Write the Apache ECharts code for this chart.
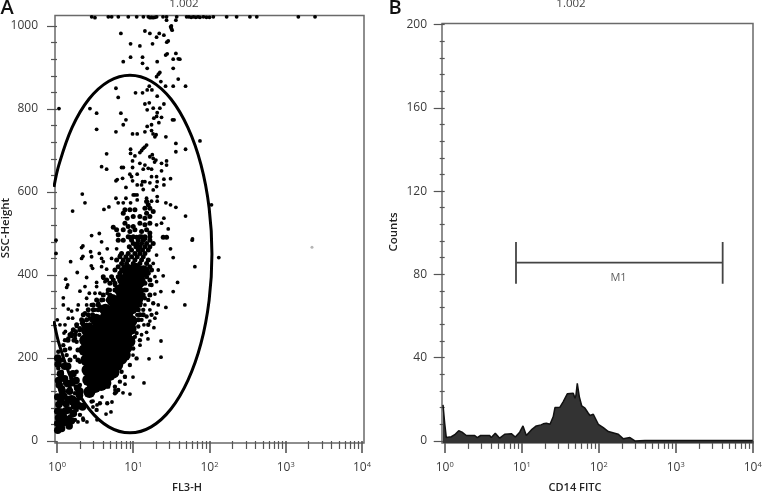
<!DOCTYPE html>
<html><head><meta charset="utf-8">
<style>html,body{margin:0;padding:0;background:#fff;overflow:hidden}#c{width:762px;height:493px}</style>
<script src="https://cdn.jsdelivr.net/npm/echarts@6/dist/echarts.min.js"></script>
</head><body><div id="c"></div>
<script>
// x values are log10 of the fluorescence channel
const decades=[0,1,2,3,4];
const ticksA=[0,200,400,600,800,1000];
const ticksB=[0,40,80,120,160,200];
const topRow=[[.455,1022],[.498,1020],[.673,1022],[.717,1022],[.804,1022],[.935,1022],[1.045,1022],[1.133,1022],[1.198,1022],[1.22,1020],[1.24,1021],[1.26,1020],[1.285,1021],[1.307,1022],[1.39,1022],[1.437,1022],[1.57,1022],[1.70,1022],[1.73,1022],[1.76,1021],[1.79,1022],[1.82,1021],[1.85,1022],[1.875,1021],[1.92,1022],[1.96,1021],[2.0,1021],[2.05,1022],[2.225,1022],[2.356,1022],[2.53,1022],[2.62,1022],[3.165,1022],[3.384,1022]];
const sparseEvents=[[1.437,1014],[1.559,1014],[1.49,998],[1.51,990],[1.5,994],[1.5,1000],[.838,982],[1.153,988],[1.218,982],[1.341,982],[1.306,973],[1.402,978],[1.459,964],[1.44,961],[.965,957],[1.087,952],[1.253,957],[1.445,933],[1.425,930],[1.559,934],[.965,925],[1.122,925],[.869,914],[1.314,914],[1.524,920],[1.611,920],[1.59,921],[1.122,910],[1.183,898],[1.524,898],[1.349,888],[1.33,884],[1.306,878],[1.59,872],[1.362,866],[1.21,855],[1.424,855],[1.524,855],[1.686,855],[.773,850],[1.03,839],[1.122,839],[1.183,846],[1.245,846],[.803,828],[1.314,831],[1.21,815],[1.153,812],[1.402,812],[.026,801],[.432,801],[.52,790],[1.183,798],[1.262,802],[1.349,802],[1.314,791],[.838,790],[.904,774],[.869,762],[.52,751],[.773,745],[.991,740],[1.052,740],[1.183,758],[1.24,762],[1.24,748],[1.153,745],[1.306,782],[1.27,778],[1.371,780],[1.336,767],[1.515,774],[1.535,774],[1.428,733],[1.284,733],[1.3,738],[1.26,740],[1.875,723],
[1.559,717],[1.686,703],[1.559,697],[.651,692],[.965,703],[.965,693],[1.175,713],[1.131,705],[1.087,695],[1.022,687],[1.15,708],[1.11,700],[1.262,681],[1.297,677],[1.218,685],[1.25,690],[1.28,672],[1.437,675],[1.437,665],[1.371,669],[.991,675],[.585,661],[.651,655],[.847,659],[.87,659],[1.087,669],[1.153,665],[1.197,657],[.991,659],[1.371,651],[1.24,655],[.956,643],[1.052,643],[.978,637],[.86,633],[.773,627],[.79,630],[.991,627],[1.131,655],[1.122,625],[1.24,637],[1.306,637],[1.314,625],[1.402,631],[1.402,617],[1.489,632],[1.153,625],[1.218,622],[1.052,617],[1.109,617],[1.306,613],[1.262,605],[1.131,606],[.904,611],[.332,595],[1.0,593],[1.022,593],[1.05,593],[.367,574],[.205,554],[.616,558],[.681,564],[.773,585],[.904,585],[.803,574],[.869,574],[.965,574],[1.052,581],[1.175,585],[1.314,589],[1.314,578],[1.24,578],[1.428,574],[1.489,569],[1.559,563],[2.026,569],[1.686,542],[1.402,537],[1.459,511],[1.371,525],[1.306,521],[.454,495],[.555,500],[1.777,487],
[.585,480],[.323,466],[.34,470],[.441,456],[.555,452],[.659,463],[.782,463],[-.013,452],[-.013,484],[.179,432],[.323,440],[.34,445],[.454,444],[.585,440],[.607,432],[.716,440],[.825,448],[.467,416],[.45,422],[.266,406],[.651,414],[.585,420],[.389,394],[.114,390],[.607,392],[.127,370],[.14,376],[.367,372],[.52,372],[.52,382],[.629,384],[.301,361],[.424,356],[.498,356],[.563,356],[.659,356],[.083,345],[.389,344],[.083,328],[.148,318],[.192,313],[.279,328],[.266,316],[.389,328],[.004,292],[.039,280],[.105,280],[.148,296],[.205,296],[.092,260],[.11,264],[.345,304],[.323,284],[.258,276],[.192,252],
[1.773,484],[1.489,463],[1.524,442],[2.122,442],[1.808,420],[1.306,448],[1.262,428],[1.328,412],[1.393,398],[1.284,396],[1.306,384],[1.218,376],[1.581,382],[1.524,360],[1.362,360],[1.284,354],[1.328,328],[1.428,322],[1.677,328],[1.153,328],[1.218,316],[1.306,308],[1.284,296],[1.218,289],[1.271,273],[1.14,280],[1.175,262],[1.109,256],
[.341,55],[.393,46],[.275,46],[.525,51],[.643,65],[.708,70],[.472,96],[.525,87],[.59,106],[.721,94],[.761,123],[.78,118],[.866,116],[.957,113],[.892,137],[.892,154],[.997,154],[1.141,140],[1.207,198],[1.364,202],[1.364,241],[1.193,246],[1.089,231],[.997,207],[.472,82]];
const clusterEvents=[[1.175,577],[1.197,569],[1.153,561],[1.218,561],[1.262,553],[1.175,549],[.956,557],[.891,557],[1.022,557],[.869,549],[.921,537],[1.0,541],[1.087,541],[1.153,537],[1.218,541],[.891,525],[.934,517],[1.0,517],[1.087,525],[1.153,521],[1.218,525],[.738,515],[.782,509],[.803,497],[.869,509],[.956,505],[1.022,509],[1.109,505],[1.175,509],[1.218,501],[.956,491],[1.044,491],[1.109,492],[1.153,488],[1.393,491],[1.437,491],
[.934,492],[1,492],[1.087,492],[1.153,492],[1.218,492],[.803,484],[.869,484],[.978,484],[1.066,484],[1.131,484],[1.218,484],[1,476],[1.052,476],[1.109,476],[1.175,476],[1.262,476],[.948,468],[1.035,468],[1.087,468],[1.153,468],[1.218,468],[.978,460],[1.066,460],[1.122,460],[1.197,460],[.847,452],[.934,452],[1.022,452],[1.087,452],[1.153,452],[.825,444],[.904,444],[.978,444],[1.052,444],[1.131,444],[.782,436],[.869,436],[.934,436],[1.022,436],[1.109,436],[1.197,436],[.847,428],[.913,428],[1,428],[1.087,428],[1.175,428],[.803,420],[.878,420],[.948,420],[1.044,420],[1.218,420],[.76,412],[.847,412],[.956,412],[1.066,412],[1.153,412],[1.24,412],[.825,404],[.921,404],[1,404],[1.109,404],[1.197,404],[.607,396],[.716,396],[.803,396],[.891,396],[1,396],[1.087,396],[1.175,396],[.651,388],[.738,388],[.825,388],[.956,388],[1.122,388],[1.218,388],[.694,380],[.76,380],[.847,380],[1.066,380],[1.153,380],[.672,364],[.76,364],[1.044,364],[1.153,364],[.607,352],[.694,352],[1.131,352],[1.218,352],[.52,340],[.585,340],[.672,340],[.76,340],[.476,328],[.541,328],[1.087,328],[.41,316],[.476,316],[.541,316],[1.066,316],[.345,304],[.41,304],[.467,304],[1.087,304],[1.131,304],[.323,292],[.389,292],[.454,292],[1.066,292],[.258,280],[.345,280],[.432,280],[.214,268],[.301,268],[.38,268],[.17,256],[.236,256],[.144,243],[.223,243],[.105,219],[.275,219],[.066,195],[.17,195],[.275,195]];
const rimEvents=[[1.052,396],[1.109,376],[1.175,364],[1.24,376],[1.087,356],[1.153,344],[1.052,344],[1.096,332],[1.044,318],[1.131,316],[1.052,304],[1.109,292],[1.022,288],[1.066,276],[1,268],[1.044,260],[.956,256],[1,248],[1.197,340],[1.262,332],[1.24,304],[1.175,300],[1.197,280],[.76,376],[.694,364],[.607,340],[.541,332],[.563,324],[.454,328],[.498,316],[.367,308],[.432,296],[.345,288],[.389,280],[.301,272],[.367,264],[.249,264],[.293,256],[.192,260],[.236,247],[.148,247],[.105,243],
[.017,175],[.061,167],[.127,207],[.17,223],[.236,203],[.301,191],[.258,239],[.083,231],[.017,215],[.039,151],[.105,139],[.192,151],[.258,167],[.17,127],[.061,115],[.236,115],[.301,135],[.301,103],[.127,99],[.192,91],[.061,91],[.345,87],[.258,75],[.105,67],[.17,59],[.039,55],[.301,63],[.236,51],[.105,43],[.039,31],[.345,51],[.454,95],[.563,91],[.52,75],[.659,91],[.76,115],[.803,123],[.76,131],[.672,131],[.825,143],[.891,155],[.847,167],[.956,183],[1.044,199],[1,223],[1.087,243],[.956,239],[1.022,251]];
const coreEvents=[[.425,118],[.5,130],[.41,147],[.53,150],[.635,140],[.4,171],[.515,175],[.63,168],[.74,165],[.385,195],[.5,198],[.62,192],[.735,190],[.845,198],[.36,219],[.475,222],[.59,215],[.71,222],[.825,218],[.91,225],[.37,243],[.485,240],[.6,246],[.72,240],[.84,246],[.95,240],[.395,267],[.51,270],[.63,264],[.75,270],[.865,264],[.965,270],[.515,292],[.63,295],[.745,289],[.865,295],[.975,289],[.635,316],[.75,319],[.86,313],[.98,319],[.725,340],[.84,343],[.95,337],[1.055,343],[.83,364],[.945,367],[1.06,361],[.87,388],[.98,391],[1.085,385],[.92,412],[1.03,415],[1.135,409],
[.47,135],[.58,135],[.46,159],[.58,159],[.69,159],[.44,183],[.56,183],[.68,183],[.79,183],[.43,207],[.55,207],[.67,207],[.78,207],[.89,207],[.42,231],[.54,231],[.65,231],[.77,231],[.88,231],[.43,255],[.55,255],[.67,255],[.78,255],[.9,255],[.57,280],[.69,280],[.8,280],[.92,280],[.69,304],[.8,304],[.92,304],[.78,328],[.9,328],[1.01,328],[.88,352],[1.0,352],[.92,376],[1.03,376],[.97,400],[1.08,400]];
const cornerEvents=[[.01,26],[.06,30],[.01,42],[.085,44],[.16,36],[.02,56],[.1,55],[.19,49],[.01,72],[.115,73],[.215,66],[.025,88],[.12,90],[.23,84],[.335,82],[.01,106],[.09,108],[.19,102],[.295,110],[.06,126],[.165,120],[.27,128],[.02,146],[.14,138],[.25,146],[.045,162],[.21,162],[.015,185],[.14,180],[.01,200],
[.05,50],[.05,70],[.05,95],[.15,75],[.15,100],[.07,120],[.21,100],[.03,135],[.1,150],[.18,140],[.25,95],[.29,85],[.3,120],[.1,180],[.06,60],[.14,50]];
const strayEvent=[[3.344,467]];
const gatePoints=[[-.04,612],[.026,666],[.197,755],[.4195,824],[.679,867],[.957,881.6],[1.235,867],[1.4945,824],[1.717,755],[1.888,666],[1.995,562],[2.032,450.6],[1.995,339],[1.888,235],[1.717,146],[1.4945,77],[1.235,34],[.957,19.6],[.679,34],[.4195,77],[.197,146],[.026,235],[-.04,289]];
const histLog=[-.022,0,.021,.086,.13,.182,.225,.281,.39,.423,.467,.584,.605,.657,.714,.779,.865,.917,.974,1.017,1.06,1.125,1.19,1.25,1.28,1.32,1.368,1.41,1.432,1.497,1.54,1.592,1.67,1.692,1.705,1.722,1.74,1.748,1.78,1.822,1.865,1.887,1.93,1.995,2.06,2.125,2.255,2.32,2.406,2.47,2.6,3,3.5,4];
const histCounts=[17.3,8.5,1.6,2,3,4.9,4.2,2.6,2.6,1.6,2.6,2.6,1.6,3.7,1.3,3.2,3.5,1.9,4.2,7.2,2.6,5.3,7.2,7.7,8.2,8.5,8,11.7,16,16.2,18.9,22.6,22.9,20.5,22,27.7,27,21.3,16.8,15.7,13.3,12.2,12.8,8,6.4,4.5,3.2,1,1.6,0,.2,.2,.2,.2];
const m1=[[.926,75.5],[.926,95.6],[.926,85.6],[3.61,85.6],[3.61,95.6],[3.61,75.5]];
const m1Label=[[2.257,78.4]];

const minorDecades=[];
for(let d=0;d<4;d++)for(let m=2;m<10;m++)minorDecades.push(d+Math.log10(m));
const fifths=t=>{const r=[];for(let i=0;i<t.length-1;i++)for(let k=1;k<5;k++)r.push(t[i]+(t[i+1]-t[i])*k/5);return r;};

const FONT='"Open Sans"';
const lineC='#555';
const grid=(left,width,top,height)=>({left,width,top,height,show:true,outerBoundsMode:'none',borderColor:'#6a6a6a',borderWidth:1.5,backgroundColor:'#fff'});
const xA=(gi,min,max,vals,len,labels)=>({type:'value',gridIndex:gi,position:'bottom',min,max,splitLine:{show:false},
  axisLine:{show:false},
  axisTick:{show:true,inside:false,length:len,customValues:vals,lineStyle:{color:lineC,width:len>10?1.6:1.2}},
  axisLabel:labels?{show:true,customValues:vals,margin:18,fontFamily:FONT,fontSize:12,color:'#3a3a3a',hideOverlap:false,
    formatter:v=>'10{s|'+Math.round(v)+'}',rich:{s:{fontSize:7.5,verticalAlign:'top',lineHeight:14,fontFamily:FONT,color:'#3a3a3a',padding:[0,0,6,0]}}}:{show:false}});
const yA=(gi,min,max,vals,len,margin)=>({type:'value',gridIndex:gi,position:'left',min,max,splitLine:{show:false},
  axisLine:{show:false},
  axisTick:{show:true,inside:false,length:len,customValues:vals,lineStyle:{color:lineC,width:1.2}},
  axisLabel:margin?{show:true,customValues:vals,margin,fontFamily:FONT,fontSize:12,color:'#3a3a3a',align:'right',formatter:v=>String(v)}:{show:false}});
const dots=(name,data,size,color)=>({name,type:'scatter',xAxisIndex:0,yAxisIndex:0,data,symbolSize:size,itemStyle:{color:color||'#000',opacity:1},silent:true,animation:false,large:false});
const txt=(text,x,y,o,rot)=>({type:'text',x,y,rotation:rot||0,style:Object.assign({text,fontFamily:FONT,fontSize:11,fill:'#222',textAlign:'center',textVerticalAlign:'middle'},o||{})});

const chart=echarts.init(document.getElementById('c'),null,{renderer:'canvas'});
chart.setOption({
  animation:false,
  backgroundColor:'#fff',
  grid:[grid(55,309,15.5,427.5),grid(442,311,23.5,419.5)],
  xAxis:[xA(0,-.026,4.026,decades,12,true),xA(0,-.026,4.026,minorDecades,8,false),
         xA(1,-.035,4.004,decades,12,true),xA(1,-.035,4.004,minorDecades,8,false)],
  yAxis:[yA(0,-4.8,1025.3,ticksA,10,17),yA(0,-4.8,1025.3,fifths(ticksA),6,0),
         yA(1,-1,200.5,ticksB,11,15),yA(1,-1,200.5,fifths(ticksB),5,0)],
  series:[
    dots('core',coreEvents,12),
    dots('corner',cornerEvents,7.5),
    dots('cluster',clusterEvents,5),
    dots('rim',rimEvents,4.4),
    dots('sparse',sparseEvents,3.8),
    dots('top',topRow,3.8),
    dots('stray',strayEvent,3,'#b5b5b5'),
    {name:'gate',type:'line',xAxisIndex:0,yAxisIndex:0,data:gatePoints,smooth:.35,showSymbol:false,symbol:'none',clip:true,lineStyle:{color:'#000',width:3},silent:true},
    {name:'CD14',type:'line',xAxisIndex:2,yAxisIndex:2,data:histLog.map((x,i)=>[x,histCounts[i]]),showSymbol:false,symbol:'none',
      lineStyle:{color:'#111',width:1.5},areaStyle:{color:'#333',opacity:1,origin:'start'},silent:true},
    {name:'M1',type:'line',xAxisIndex:2,yAxisIndex:2,data:m1,showSymbol:false,symbol:'none',lineStyle:{color:'#444',width:1.8},silent:true},
    {name:'M1 label',type:'scatter',xAxisIndex:2,yAxisIndex:2,data:m1Label,symbolSize:0,silent:true,
      label:{show:true,position:'inside',formatter:'M1',fontFamily:FONT,fontSize:11,color:'#333'}}
  ],
  graphic:[
    txt('A',7,8,{fontSize:20,fontWeight:600,fill:'#111'}),
    txt('B',395,8,{fontSize:20,fontWeight:600,fill:'#111'}),
    txt('1.002',184,4,{fontSize:11.5,fill:'#444'}),
    txt('1.002',571,4,{fontSize:11.5,fill:'#444'}),
    txt('FL3-H',187,488,{fontWeight:600,fontSize:11}),
    txt('CD14 FITC',575,488,{fontWeight:600,fontSize:11}),
    txt('SSC-Height',6,228,{fontWeight:600,fontSize:11.5},Math.PI/2),
    txt('Counts',394,232,{fontWeight:600,fontSize:11.5},Math.PI/2)
  ]
});
</script></body></html>
